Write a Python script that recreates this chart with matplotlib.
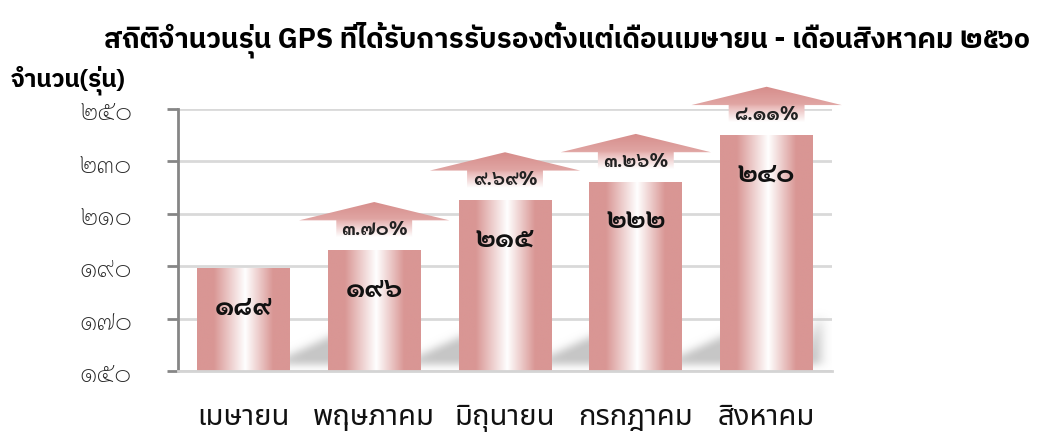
import numpy as np
import matplotlib
matplotlib.use("Agg")
import matplotlib.pyplot as plt
from matplotlib.patches import Polygon

# ---- data ----
months = ["เมษายน", "พฤษภาคม", "มิถุนายน", "กรกฎาคม", "สิงหาคม"]
counts = [189, 196, 215, 222, 240]
growth = [None, 3.70, 9.69, 3.26, 8.11]
yticks = [150, 170, 190, 210, 230, 250]
title = "สถิติจำนวนรุ่น GPS ที่ได้รับการรับรองตั้งแต่เดือนเมษายน - เดือนสิงหาคม ๒๕๖๐"
ylabel = "จำนวน(รุ่น)"

TH = str.maketrans("0123456789", "๐๑๒๓๔๕๖๗๘๙")
def th(s):
    return str(s).translate(TH)

F_TITLE = ['IBM Plex Sans Thai', 'DejaVu Sans']
F_DIGIT = ['Sarabun', 'DejaVu Sans']
F_CAT = ['Noto Sans Thai', 'DejaVu Sans']
plt.rcParams['font.family'] = F_CAT

fig = plt.figure(figsize=(10.43, 4.39), dpi=100)
ax = fig.add_axes([0.1707, 0.1526, 0.627, 0.5968])
ax.set_xlim(-0.5, 4.5)
ax.set_ylim(150, 250)

bw = 0.71
pink = np.array([217, 150, 148]) / 255.0
white = np.array([255, 255, 255]) / 255.0

# ---- soft floor shadows ----
nx, ny = 700, 140
xs = np.linspace(-0.5, 4.5, nx)
ys = np.linspace(150, 185, ny)
X, Y = np.meshgrid(xs, ys)
mask = np.zeros_like(X)
n = len(counts)
for i in range(n):
    x1 = i + bw / 2
    if i < n - 1:
        xe = i + 1 - bw / 2 + 0.1
        t0, t1 = 156.0, 165.0
    else:
        xe = 4.42
        t0, t1 = 164.0, 172.0
    top = t0 + (t1 - t0) * (X - x1) / (xe - x1)
    m = (X >= x1 - 0.15) & (X <= xe) & (Y >= 152.5) & (Y <= top)
    mask = np.maximum(mask, m.astype(float))

def blur(a, sig, axis):
    r = int(3 * sig)
    k = np.exp(-0.5 * (np.arange(-r, r + 1) / sig) ** 2)
    k /= k.sum()
    return np.apply_along_axis(lambda v: np.convolve(np.pad(v, r, mode='edge'), k, mode='valid'), axis, a)

mask = blur(mask, 6, 1)
mask = blur(mask, 6, 0)
shadow = np.zeros((ny, nx, 4))
shadow[..., :3] = 0.78
shadow[..., 3] = np.clip(mask * 1.05, 0, 1)
ax.imshow(shadow, extent=[-0.5, 4.5, 150, 185], origin='lower', aspect='auto',
          zorder=0.6, interpolation='bilinear')

# ---- bars with horizontal gradient ----
pos = [0.0, 0.18, 0.52, 0.82, 1.0]
cols = [pink, pink, white, pink, pink]
t = np.linspace(0, 1, 200)
grad = np.stack([np.interp(t, pos, [c[k] for c in cols]) for k in range(3)], axis=-1)[None, :, :]
for i, v in enumerate(counts):
    ax.imshow(grad, extent=[i - bw / 2, i + bw / 2, 150, v], aspect='auto',
              zorder=2, interpolation='bilinear')
    ax.text(i, v - 14.5, th(v), ha='center', va='center', fontsize=20,
            fontweight='bold', color='#111111', zorder=5, family=F_DIGIT)

# ---- growth arrows ----
vpos = [0.0, 0.42, 0.5, 1.0]
vcols = [white, np.array([233, 185, 184]) / 255, np.array([224, 165, 163]) / 255,
         np.array([214, 140, 138]) / 255]
tv = np.linspace(0, 1, 200)
vgrad = np.stack([np.interp(tv, vpos, [c[k] for c in vcols]) for k in range(3)], axis=-1)[:, None, :]
for i, (v, g) in enumerate(zip(counts, growth)):
    if g is None:
        continue
    b0 = v + 5.0
    b1 = v + 11.5
    ap = v + 18.5
    hb, hh = 0.29, 0.575
    poly = Polygon([(i - hb, b0), (i + hb, b0), (i + hb, b1), (i + hh, b1),
                    (i, ap), (i - hh, b1), (i - hb, b1)], closed=True,
                   facecolor='none', edgecolor='none', transform=ax.transData,
                   clip_on=False)
    ax.add_patch(poly)
    im = ax.imshow(vgrad, extent=[i - hh, i + hh, b0, ap], origin='lower',
                   aspect='auto', zorder=3, interpolation='bilinear')
    im.set_clip_box(fig.bbox)
    im.set_clip_path(poly)
    ax.text(i, (b0 + b1) / 2, th(f"{g:.2f}") + "%", ha='center', va='center',
            fontsize=14, fontweight='bold', color='#222222', zorder=6, clip_on=False,
            family=F_DIGIT)

ax.set_xlim(-0.5, 4.5)
ax.set_ylim(150, 250)

# ---- axes styling ----
ax.set_yticks(yticks)
ax.set_yticklabels([th(y) for y in yticks], family=F_DIGIT, color='#262626',
                   fontweight='light')
ax.set_xticks(range(n))
ax.set_xticklabels(months, family=F_CAT, color='#111111', fontweight='light')
ax.yaxis.grid(True, color='#d9d9d9', lw=2)
ax.set_axisbelow(True)
for s in ['top', 'right']:
    ax.spines[s].set_visible(False)
ax.spines['left'].set_color('#868686')
ax.spines['left'].set_linewidth(2)
ax.spines['bottom'].set_color('#d4d4d4')
ax.spines['bottom'].set_linewidth(2)
ax.tick_params(axis='y', length=8, width=2, color='#868686', labelsize=19, pad=25)
ax.tick_params(axis='x', length=0, labelsize=21, pad=22)

fig.text(0.544, 0.909, title, ha='center', va='center', fontsize=20,
         fontweight='bold', family=F_TITLE)
fig.text(0.01, 0.818, ylabel, ha='left', va='center', fontsize=17.5,
         fontweight='bold', family=F_TITLE)

fig.savefig("out.png", dpi=100)
